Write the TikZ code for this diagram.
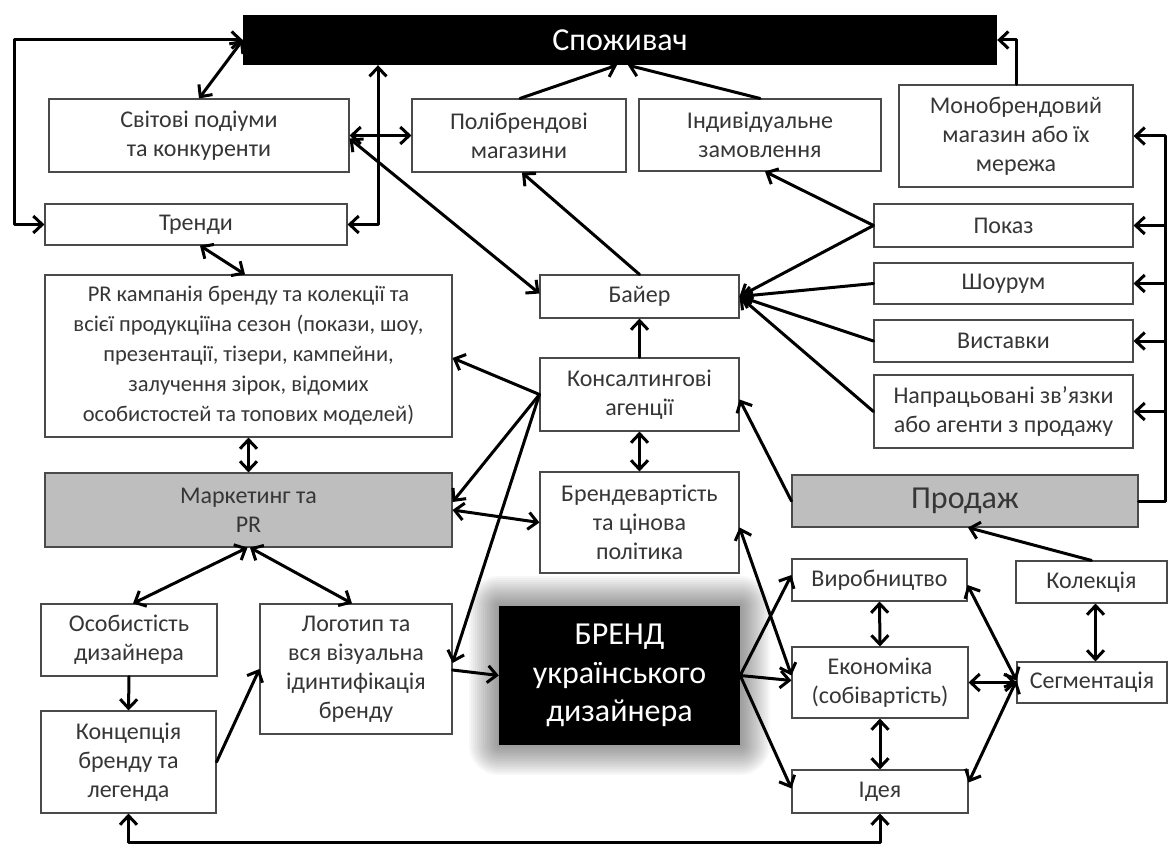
\documentclass[tikz,border=0pt]{standalone}
\usepackage{fontspec}
\setmainfont{Carlito}
\usetikzlibrary{arrows.meta}
\definecolor{txt}{HTML}{363636}
\definecolor{brd}{HTML}{4A4A4A}
\definecolor{gbox}{HTML}{BEBEBE}
\newcommand\fnorm{\fontsize{24}{29}\selectfont}
\newcommand\fpr{\fontsize{22.5}{30}\selectfont}
\newcommand\fbig{\fontsize{32}{36}\selectfont}
\newcommand\fhuge{\fontsize{32}{38.5}\selectfont}
\tikzset{
  box/.style={draw=brd, line width=1.1pt, fill=white, text=txt, align=center, inner sep=0pt, font=\fnorm},
  gbx/.style={box, fill=gbox},
  blk/.style={fill=black, draw=none, text=white, align=center, inner sep=0pt},
  conn/.style={line width=3pt, black, line cap=round, line join=round},
  >={Straight Barb[length=9pt,width=17pt]}
}
\begin{document}
\begin{tikzpicture}[x=1pt,y=-1pt]
\useasboundingbox (0,0) rectangle (1168,845);
% glow around brand box
\foreach \i in {1,...,15}
  \fill[black, opacity=0.032, rounded corners={2*\i pt}] ({499-2*\i},{606-2*\i}) rectangle ({740+2*\i},{745+2*\i});
% nodes
\node[blk, minimum width=754, minimum height=50, font=\fbig] (spoz) at (620,40) {Споживач};
\node[box, minimum width=300, minimum height=73] (svit) at (199,135.5) {Світові подіуми\\та конкуренти};
\node[box, minimum width=302, minimum height=41] (trendy) at (196,224.5) {Тренди};
\node[box, minimum width=214, minimum height=73] (poli) at (519,135.5) {Полібрендові\\магазини};
\node[box, minimum width=242, minimum height=72] (indy) at (760,135) {Індивідуальне\\замовлення};
\node[box, minimum width=234, minimum height=102] (mono) at (1016,136) {Монобрендовий\\магазин або їх\\мережа};
\node[box, minimum width=259, minimum height=43] (pokaz) at (1003.5,225.5) {Показ};
\node[box, minimum width=259, minimum height=41] (show) at (1003.5,283.5) {Шоурум};
\node[box, minimum width=259, minimum height=42] (vyst) at (1003.5,341) {Виставки};
\node[box, minimum width=259, minimum height=73] (napr) at (1003.5,411.5) {Напрацьовані зв’язки\\або агенти з продажу};
\node[gbx, minimum width=346, minimum height=52, font=\fbig] (prod) at (965,501) {Продаж};
\node[box, minimum width=407, minimum height=162, font=\fpr] (pr) at (248.5,356) {PR кампанія бренду та колекції та\\всієї продукціїна сезон (покази, шоу,\\презентації, тізери, кампейни,\\залучення зірок, відомих\\особистостей та топових моделей)};
\node[gbx, minimum width=407, minimum height=74] (mark) at (248.5,510) {Маркетинг та\\PR};
\node[box, minimum width=199, minimum height=43] (bayer) at (639.5,296.5) {Байер};
\node[box, minimum width=199, minimum height=73] (kons) at (639.5,394.5) {Консалтингові\\агенції};
\node[box, minimum width=199, minimum height=101] (brv) at (639.5,522.5) {Брендевартість\\та цінова\\політика};
\node[blk, minimum width=241, minimum height=139, font=\fhuge] (brend) at (619.5,675.5) {БРЕНД\\українського\\дизайнера};
\node[box, minimum width=176, minimum height=72] (osob) at (129,640) {Особистість\\дизайнера};
\node[box, minimum width=175, minimum height=102] (konc) at (128.5,762) {Концепція\\бренду та\\легенда};
\node[box, minimum width=192, minimum height=130] (logo) at (356,669) {Логотип та\\вся візуальна\\ідинтифікація\\бренду};
\node[box, minimum width=175, minimum height=42] (vyrob) at (879.5,580) {Виробництво};
\node[box, minimum width=176, minimum height=71] (ekon) at (880,682.5) {Економіка\\(собівартість)};
\node[box, minimum width=176, minimum height=43] (ideia) at (880,791.5) {Ідея};
\node[box, minimum width=151, minimum height=42] (kolek) at (1091.5,582) {Колекція};
\node[box, minimum width=150, minimum height=41] (segm) at (1092,682.5) {Сегментація};
% bus coordinates
\coordinate (busb) at (1165,501);
\coordinate (bust) at (1165,136);
% connectors
\draw[conn,<->] (svit.north) -- (spoz.west);
\draw[conn,<->] (spoz.west) -- ++(-228,0) |- (trendy.west);
\draw[conn,<->] (trendy.east) -| ([xshift=-242pt]spoz.south);
\draw[conn,<->] (svit.east) -- (poli.west);
\draw[conn,<->] ([yshift=-3pt]svit.east) -- ([yshift=3pt]bayer.west);
\draw[conn,->] ([xshift=1pt]poli.north) -- ([xshift=-3pt]spoz.south);
\draw[conn,->] (indy.north) -- ([xshift=8pt]spoz.south);
\draw[conn,->] (mono.north) |- (spoz.east);
\draw[conn] (prod.east) -- (busb) -- (bust);
\draw[conn,->] (bust) -- (mono.east);
\draw[conn,->] (bust |- pokaz.east) -- (pokaz.east);
\draw[conn,->] (bust |- show.east) -- (show.east);
\draw[conn,->] (bust |- vyst.east) -- (vyst.east);
\draw[conn,->] (bust |- napr.east) -- (napr.east);
\draw[conn,->] (bayer.north) -- ([xshift=3pt]poli.south);
\draw[conn,->] (pokaz.west) -- ([xshift=5pt]indy.south);
\draw[conn,->] (pokaz.west) -- (bayer.east);
\draw[conn,->] (show.west) -- (bayer.east);
\draw[conn,->] (vyst.west) -- (bayer.east);
\draw[conn,->] (napr.west) -- (bayer.east);
\draw[conn,->] (kons.north) -- (bayer.south);
\draw[conn,<->] (kons.south) -- (brv.north);
\draw[conn,->] (kons.west) -- ([yshift=-2pt]pr.east);
\draw[conn,->] (kons.west) -- ([yshift=8pt]mark.east);
\draw[conn,->] (kons.west) -- ([yshift=6pt]logo.east);
\draw[conn,<->] (mark.east) -- (brv.west);
\draw[conn,->] ([yshift=-1pt]logo.east) -- (brend.west);
\draw[conn,->] (prod.west) -- ([yshift=-5pt]kons.east);
\draw[conn,->] (kolek.north) -- ([xshift=3pt]prod.south);
\draw[conn,<->] ([yshift=-5pt]brv.east) -- ([yshift=7pt]ekon.west);
\draw[conn,->] (brend.east) -- ([yshift=5pt]vyrob.west);
\draw[conn,->] (brend.east) -- ([yshift=2pt]ekon.west);
\draw[conn,->] (brend.east) -- ([yshift=3pt]ideia.west);
\draw[conn,<->] (vyrob.south) -- (ekon.north);
\draw[conn,<->] (ekon.south) -- (ideia.north);
\draw[conn,<->] (ekon.east) -- (segm.west);
\draw[conn,<->] ([yshift=-5pt]vyrob.east) -- ([yshift=2pt]segm.west);
\draw[conn,<->] ([yshift=9pt]ideia.east) -- ([yshift=2pt]segm.west);
\draw[conn,<->] ([xshift=4pt]kolek.south) -- ([xshift=3.5pt]segm.north);
\draw[conn,<->] ([xshift=-1pt]mark.south) -- ([xshift=4pt]osob.north);
\draw[conn,<->] ([xshift=1.5pt]mark.south) -- ([xshift=-4pt]logo.north);
\draw[conn,->] (osob.south) -- (konc.north);
\draw[conn,->] (konc.east) -- (logo.west);
\draw[conn,<->] (pr.south) -- (mark.north);
\draw[conn,<->] ([xshift=4pt]trendy.south) -- ([xshift=-3.5pt]pr.north);
\draw[conn,<->] (konc.south) -- ++(0,29) -| (ideia.south);
\end{tikzpicture}
\end{document}
